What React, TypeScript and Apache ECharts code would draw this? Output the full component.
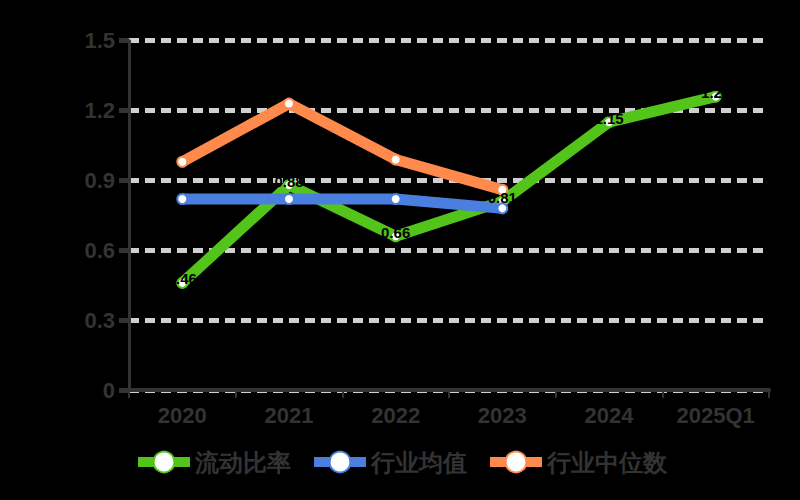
import React, { useEffect, useRef } from "react";
import * as echarts from "echarts";

const categories = ["2020", "2021", "2022", "2023", "2024", "2025Q1"];
const seriesNames = ["流动比率", "行业均值", "行业中位数"];
const ratioValues = [0.46, 0.88, 0.66, 0.81, 1.15, 1.26];
const industryMean = [0.82, 0.82, 0.82, 0.78, null, null];
const industryMedian = [0.98, 1.23, 0.99, 0.86, null, null];
const seriesColors = ["#52c41a", "#4a7fe0", "#ff8a4c"];

export default function App() {
  const ref = useRef<HTMLDivElement>(null);
  useEffect(() => {
    if (!ref.current) return;
    const chart = echarts.init(ref.current, null, { renderer: "svg" });
    const textColor = "#333";
    const mk = (name: string, data: (number | null)[], color: string, label: boolean) => ({
      name,
      type: "line",
      data,
      symbol: "emptyCircle",
      symbolSize: 10,
      lineStyle: { width: 11, color },
      itemStyle: { color, borderColor: color, borderWidth: 4 },
      label: label
        ? { show: true, position: "inside", offset: [0, -4], color: "#000", fontSize: 15, fontWeight: "bold" }
        : { show: false },
    });
    chart.setOption({
      animation: false,
      backgroundColor: "#000",
      grid: { left: 129, right: 31, top: 40.7, bottom: 110 },
      legend: {
        top: 445,
        left: "center",
        itemWidth: 52,
        itemHeight: 26,
        itemGap: 18,
        lineStyle: { width: 10 },
        itemStyle: { borderWidth: 5 },
        textStyle: { color: textColor, fontSize: 24, fontWeight: "bold" },
        data: seriesNames,
      },
      xAxis: {
        type: "category",
        data: categories,
        boundaryGap: true,
        axisLine: { lineStyle: { color: textColor, width: 4 } },
        axisTick: { show: true, length: 8, lineStyle: { color: textColor, width: 2 } },
        axisLabel: { color: textColor, fontSize: 22, fontWeight: "bold", margin: 14 },
      },
      yAxis: {
        type: "value",
        min: 0,
        max: 1.5,
        interval: 0.3,
        axisLine: { show: true, lineStyle: { color: textColor, width: 3 } },
        axisTick: { show: true, length: 10, lineStyle: { color: textColor, width: 5 } },
        axisLabel: { color: textColor, fontSize: 22, fontWeight: "bold", margin: 14 },
        splitLine: { show: true, lineStyle: { color: "#d0d0d0", width: 5, type: [10, 6] } },
      },
      series: [
        mk(seriesNames[0], ratioValues, seriesColors[0], true),
        mk(seriesNames[1], industryMean, seriesColors[1], false),
        mk(seriesNames[2], industryMedian, seriesColors[2], false),
      ],
    });
    return () => chart.dispose();
  }, []);
  return (
    <div
      ref={ref}
      style={{ position: "fixed", left: 0, top: 0, width: 800, height: 500, background: "#000" }}
    />
  );
}
